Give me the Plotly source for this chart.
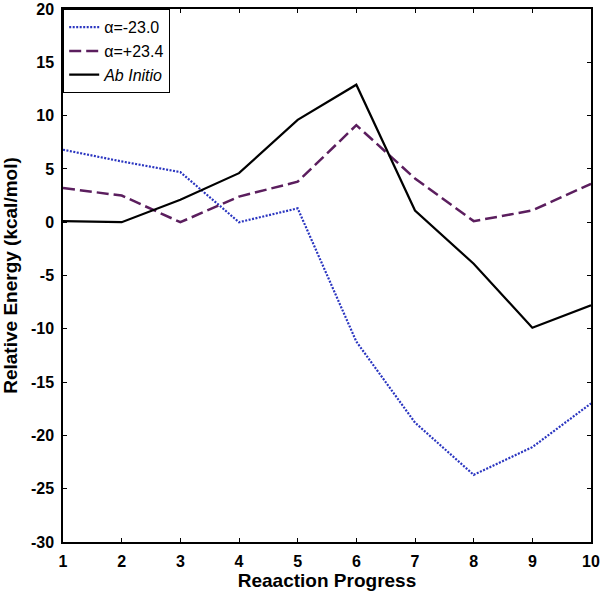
import plotly.graph_objects as go

x = [1, 2, 3, 4, 5, 6, 7, 8, 9, 10]
alpha_neg = [6.8, 5.7, 4.7, 0.0, 1.3, -11.2, -18.8, -23.7, -21.1, -17.0]
alpha_pos = [3.2, 2.5, 0.0, 2.4, 3.8, 9.1, 4.1, 0.1, 1.1, 3.6]
ab_initio = [0.1, 0.0, 2.1, 4.6, 9.6, 12.9, 1.1, -3.9, -9.9, -7.8]
y_ticks = [-30, -25, -20, -15, -10, -5, 0, 5, 10, 15, 20]
y_ticklabels = ["<b>%d</b>" % v for v in y_ticks]
x_ticklabels = ["<b>%d</b>" % v for v in x]

fig = go.Figure()
fig.add_trace(go.Scatter(x=x, y=alpha_neg, mode="lines", name="α=-23.0",
                         line=dict(color="#2a35c0", width=2.2, dash="2px,1.5px")))
fig.add_trace(go.Scatter(x=x, y=alpha_pos, mode="lines", name="α=+23.4",
                         line=dict(color="#5b1e5e", width=2.5, dash="12px,5px")))
fig.add_trace(go.Scatter(x=x, y=ab_initio, mode="lines", name="<i>Ab Initio</i>",
                         line=dict(color="black", width=2.2)))

axis_common = dict(showgrid=False, zeroline=False, showline=True, linecolor="black",
                   linewidth=1.5, mirror="ticks", ticks="inside", ticklen=4,
                   tickcolor="black", automargin=False, ticklabeloverflow="allow",
                   tickfont=dict(family="Liberation Sans", size=16, color="black"))

fig.update_layout(
    width=601, height=595,
    margin=dict(l=63, r=10, t=9, b=53),
    plot_bgcolor="white", paper_bgcolor="white",
    font=dict(family="Liberation Sans", color="black"),
    xaxis=dict(range=[1, 10], tickvals=x, ticktext=x_ticklabels, ticklabelstandoff=4,
               title=dict(text="<b>Reaaction Progress</b>", font=dict(size=19), standoff=4),
               **axis_common),
    yaxis=dict(range=[-30, 20], tickvals=y_ticks, ticktext=y_ticklabels, ticklabelstandoff=4,
               title=dict(text="<b>Relative Energy (kcal/mol)</b>", font=dict(size=19), standoff=9),
               **axis_common),
    legend=dict(x=0, y=1, xanchor="left", yanchor="top", bgcolor="white",
                bordercolor="black", borderwidth=1.2,
                font=dict(family="Liberation Sans", size=16, color="black"),
                tracegroupgap=0, itemwidth=30),
    showlegend=True,
)

fig.write_html("out.html", config={"displayModeBar": False},
               post_script="document.body.style.margin='0';")
